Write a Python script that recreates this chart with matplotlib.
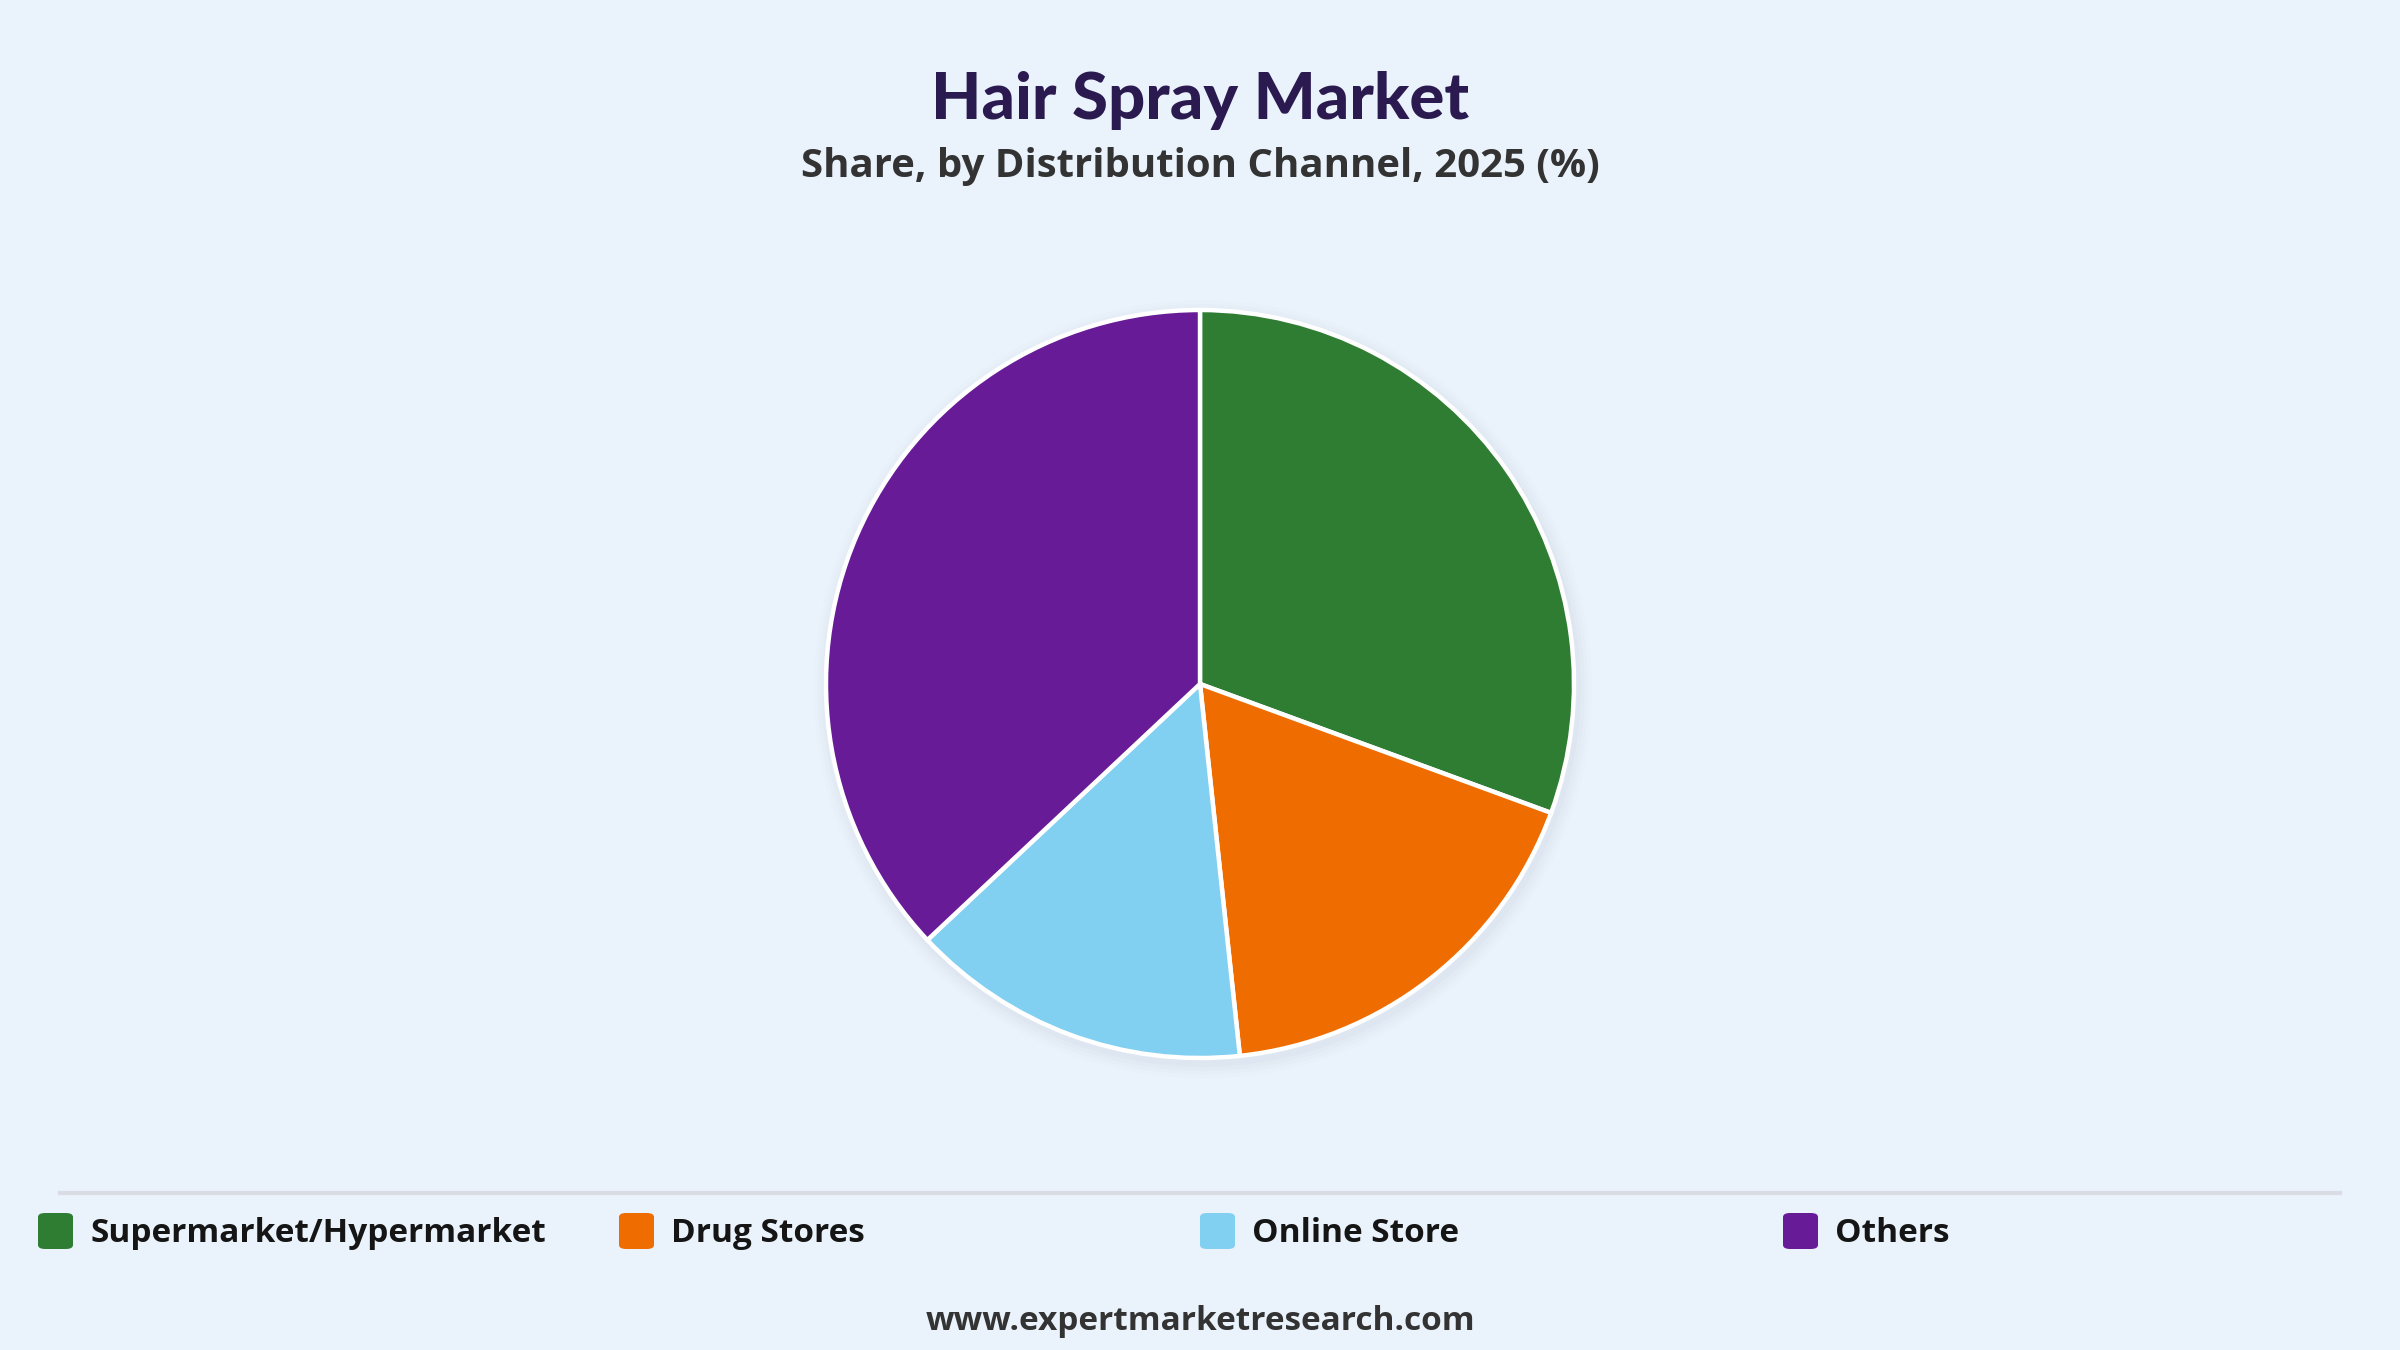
import matplotlib
matplotlib.use("Agg")
import matplotlib.pyplot as plt
from matplotlib.patches import FancyBboxPatch, Circle
from matplotlib.lines import Line2D

categories = ["Supermarket/Hypermarket", "Drug Stores", "Online Store", "Others"]
shares = [30.6, 17.7, 14.7, 37.0]
colors = ["#2F7D32", "#EF6C00", "#81CFF1", "#671B97"]

title = "Hair Spray Market"
subtitle = "Share, by Distribution Channel, 2025 (%)"
footer = "www.expertmarketresearch.com"

BG = "#EAF2FB"
W, H = 2400, 1350
fig = plt.figure(figsize=(24, 13.5), dpi=100, facecolor=BG)

FONT = ["Open Sans", "DejaVu Sans"]

# Title / subtitle
fig.text(1200 / W, 1 - 101 / H, title, ha="center", va="center",
         fontsize=47, fontweight=900, color="#2B1A4F", family=["Lato", "DejaVu Sans"])
fig.text(1200 / W, 1 - 167 / H, subtitle, ha="center", va="center",
         fontsize=28.9, fontweight="bold", color="#333333", family=FONT)

# Pie
cx, cy, r = 1200, 684, 374
pad = 1.08
ax = fig.add_axes([(cx - r * pad) / W, (H - cy - r * pad) / H, 2 * r * pad / W, 2 * r * pad / H])
ax.set_aspect("equal")
ax.axis("off")

# soft shadow (slightly offset to lower right)
for i, a in enumerate([0.02, 0.025, 0.03, 0.035]):
    ax.add_patch(Circle((0.008, -0.014), 1.0 + 0.01 * (4 - i), color="#8899AA", alpha=a, lw=0, zorder=0))

ax.pie(shares, colors=colors, startangle=90, counterclock=False, radius=1.0,
       wedgeprops=dict(edgecolor="white", linewidth=3.2), frame=False)
ax.set_xlim(-pad, pad)
ax.set_ylim(-pad, pad)

# separator line
fig.add_artist(Line2D([60 / W, 2340 / W], [1 - 1193 / H, 1 - 1193 / H], color="#D9DDE3", lw=3))

# legend
xs = [38, 619, 1200, 1783]
for x, lab, c in zip(xs, categories, colors):
    fig.add_artist(FancyBboxPatch((x / W, 1 - 1249 / H), 35 / W, 36 / H,
                                  boxstyle="round,pad=0,rounding_size=0.003",
                                  transform=fig.transFigure, facecolor=c, edgecolor="none"))
    fig.text((x + 52) / W, 1 - 1233 / H, lab, ha="left", va="center",
             fontsize=24, fontweight="bold", color="#151515", family=FONT)

fig.text(1200 / W, 1 - 1322 / H, footer, ha="center", va="center",
         fontsize=24, fontweight="bold", color="#333333", family=FONT)

fig.savefig("out.png", dpi=100, facecolor=BG)
